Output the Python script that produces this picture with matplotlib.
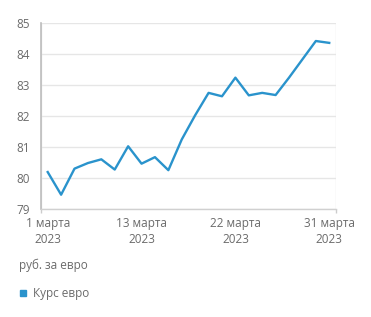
import matplotlib.pyplot as plt
from matplotlib.patches import Rectangle

# EUR rate, trading days of March 2023
dates = ["1", "2", "3", "6", "7", "9", "10", "13", "14", "15", "16",
         "17", "20", "21", "22", "23", "24", "27", "28", "29", "30", "31"]
rates = [80.19, 79.46, 80.30, 80.48, 80.60, 80.27, 81.02, 80.46, 80.67, 80.25, 81.24,
         82.02, 82.74, 82.63, 83.23, 82.66, 82.74, 82.67, 83.23, 83.82, 84.41, 84.35]
tick_idx = [0, 7, 14, 21]
tick_labels = ["1 марта\n2023", "13 марта\n2023", "22 марта\n2023", "31 марта\n2023"]
y_ticks = [79, 80, 81, 82, 83, 84, 85]

plt.rcParams['font.family'] = ['Open Sans', 'DejaVu Sans']
text_col = "#6b6b6b"
grid_col = "#e6e6e6"
line_col = "#2a93cc"

fig = plt.figure(figsize=(3.71, 3.17), dpi=100)
ax = fig.add_axes([0.1105, 0.3407, 0.795, 0.5877])

ax.plot(range(len(rates)), rates, color=line_col, linewidth=1.7)

ax.set_xlim(-0.5, 21.5)
ax.set_ylim(79, 85)
ax.set_yticks(y_ticks)
ax.set_xticks(tick_idx)
ax.set_xticklabels(tick_labels, linespacing=1.25, ha='center', multialignment='center')
ax.set_xticks([-0.5, 7, 14, 21.5], minor=True)

ax.grid(True, axis='y', color=grid_col, linewidth=1)
ax.grid(True, axis='x', which='minor', color=grid_col, linewidth=1)
ax.tick_params(axis='x', which='major', length=0, pad=6, labelsize=8.5, colors=text_col)
ax.tick_params(axis='x', which='minor', length=3, color="#cccccc", width=1)
ax.tick_params(axis='y', length=0, pad=8, labelsize=8.5, colors=text_col)

for s in ["top", "right"]:
    ax.spines[s].set_visible(False)
ax.spines["left"].set_color("#bdbdbd")
ax.spines["left"].set_linewidth(1.2)
ax.spines["bottom"].set_color("#d0d0d0")
ax.spines["bottom"].set_linewidth(1)

fig.text(19 / 371, 1 - 265 / 317, "руб. за евро", fontsize=8.5, color=text_col, va='center')
fig.patches.append(Rectangle((19.5 / 371, 1 - 296 / 317), 6 / 371, 6 / 317,
                             transform=fig.transFigure, color=line_col, figure=fig))
fig.text(33 / 371, 1 - 293 / 317, "Курс евро", fontsize=8.5, color=text_col, va='center')

fig.savefig("out.png", dpi=100)
